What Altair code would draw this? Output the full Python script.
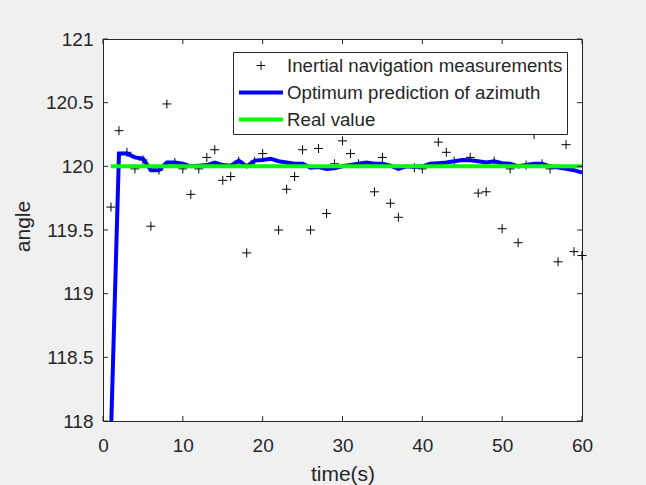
import altair as alt
import pandas as pd

# ---------------- data ----------------
time_s = list(range(1, 61))

measurements = [
    119.68, 120.28, 120.11, 119.98, 120.05, 119.53, 119.97, 120.49, 120.03, 119.98,
    119.78, 119.98, 120.07, 120.13, 119.89, 119.92, 120.04, 119.32, 120.04, 120.10,
    120.29, 119.50, 119.82, 119.92, 120.13, 119.50, 120.14, 119.63, 120.02, 120.20,
    120.10, 120.02, 120.29, 119.80, 120.07, 119.71, 119.60, 120.29, 119.99, 119.98,
    120.29, 120.19, 120.11, 120.04, 120.29, 120.07, 119.79, 119.80, 120.04, 119.51,
    119.98, 119.40, 120.01, 120.25, 120.02, 119.98, 119.25, 120.17, 119.33, 119.30,
]

prediction = [
    117.90, 120.10, 120.10, 120.07, 120.06, 119.97, 119.97, 120.03, 120.03, 120.02,
    120.00, 120.005, 120.01, 120.03, 120.01, 120.005, 120.045, 120.00, 120.045, 120.05,
    120.06, 120.04, 120.03, 120.02, 120.02, 119.99, 119.995, 119.98, 119.985, 120.00,
    120.01, 120.02, 120.03, 120.02, 120.02, 120.005, 119.98, 120.00, 119.995, 120.00,
    120.02, 120.025, 120.03, 120.04, 120.05, 120.047, 120.04, 120.03, 120.04, 120.025,
    120.02, 120.00, 120.01, 120.02, 120.02, 120.00, 119.99, 119.98, 119.97, 119.95,
]

real_value = [120.0] * 60

x_ticks = [0, 10, 20, 30, 40, 50, 60]
y_ticks = [118, 118.5, 119, 119.5, 120, 120.5, 121]

series_names = [
    "Inertial navigation measurements",
    "Optimum prediction of azimuth",
    "Real value",
]
series_colors = ["#000000", "#0000ff", "#00ff00"]
series_shapes = ["M-0.2,0H0.2M0,-0.2V0.2", "M-1,0H1", "M-1,0H1"]
series_widths = [1, 4, 4]

df_meas = pd.DataFrame({"t": time_s, "v": measurements, "series": series_names[0]})
df_pred = pd.DataFrame({"t": time_s, "v": prediction, "series": series_names[1]})
df_real = pd.DataFrame({"t": time_s, "v": real_value, "series": series_names[2]})
df_xt = pd.DataFrame({"t": x_ticks})
df_yt = pd.DataFrame({"v": y_ticks})

# ---------------- layout ----------------
W, H = 479, 382
TXT = "#262626"
FONT = "Liberation Sans"

x_scale = alt.Scale(domain=[0, 60], nice=False, zero=False)
y_scale = alt.Scale(domain=[118, 121], nice=False, zero=False)
color_scale = alt.Scale(domain=series_names, range=series_colors)
shape_scale = alt.Scale(domain=series_names, range=series_shapes)
width_scale = alt.Scale(type="ordinal", domain=series_names, range=series_widths)

x_axis = alt.Axis(
    values=x_ticks, format="d", title="time(s)", grid=False, domain=False,
    ticks=False, labelPadding=15, labelFlush=False, labelOverlap=False,
    labelFont=FONT, labelFontSize=19, labelColor=TXT,
    titleFont=FONT, titleFontSize=21, titleFontWeight="normal", titleColor=TXT,
    titleY=59, titleBaseline="alphabetic",
)
y_axis = alt.Axis(
    values=y_ticks, format="~f", title="angle", grid=False, domain=False,
    ticks=False, labelPadding=10, labelFlush=False, labelOverlap=False,
    labelFont=FONT, labelFontSize=19, labelColor=TXT,
    titleFont=FONT, titleFontSize=21, titleFontWeight="normal", titleColor=TXT,
    titleAngle=270, titleX=-74, titleY=187, titleAlign="center",
    titleBaseline="alphabetic",
)

X = alt.X("t:Q", scale=x_scale, axis=x_axis)
Y = alt.Y("v:Q", scale=y_scale, axis=y_axis)

leg = alt.Legend(title=None)

pts = alt.Chart(df_meas).mark_point(filled=False, size=2025, opacity=1).encode(
    x=X, y=Y,
    color=alt.Color("series:N", scale=color_scale, legend=leg),
    shape=alt.Shape("series:N", scale=shape_scale, legend=leg),
    strokeWidth=alt.StrokeWidth("series:N", scale=width_scale, legend=leg),
)

pred_line = alt.Chart(df_pred).mark_line(clip=True).encode(
    x=X, y=Y,
    color=alt.Color("series:N", scale=color_scale, legend=leg),
    strokeWidth=alt.StrokeWidth("series:N", scale=width_scale, legend=leg),
)

real_line = alt.Chart(df_real).mark_line(clip=True).encode(
    x=X, y=Y,
    color=alt.Color("series:N", scale=color_scale, legend=leg),
    strokeWidth=alt.StrokeWidth("series:N", scale=width_scale, legend=leg),
)

# inward MATLAB-style ticks on all four sides, placed at the tick values
tick_style = dict(color=TXT, strokeWidth=1)
x_bottom = alt.Chart(df_xt).mark_rule(**tick_style).encode(
    x=X, y=alt.value(H), y2=alt.value(H - 5)
)
x_top = alt.Chart(df_xt).mark_rule(**tick_style).encode(
    x=X, y=alt.value(0), y2=alt.value(5)
)
y_left = alt.Chart(df_yt).mark_rule(**tick_style).encode(
    y=Y, x=alt.value(0), x2=alt.value(5)
)
y_right = alt.Chart(df_yt).mark_rule(**tick_style).encode(
    y=Y, x=alt.value(W), x2=alt.value(W - 5)
)

chart = (
    alt.layer(pts, pred_line, real_line, x_bottom, x_top, y_left, y_right)
    .properties(
        width=W,
        height=H,
        autosize=alt.AutoSizeParams(type="none"),
        padding={"left": 103, "top": 39, "right": 64, "bottom": 64},
        background="#f0f0f0",
    )
    .configure_view(fill="white", stroke=TXT, strokeWidth=1)
    .configure_legend(
        orient="none", legendX=130, legendY=13,
        fillColor="white", strokeColor=TXT, padding=4,
        labelFont=FONT, labelFontSize=18.7, labelColor=TXT, labelLimit=1000,
        symbolSize=1936, symbolOffset=0, labelOffset=2, rowPadding=7,
        clipHeight=19,
    )
)

chart.save("out.html", embed_options={"renderer": "svg", "actions": False})
